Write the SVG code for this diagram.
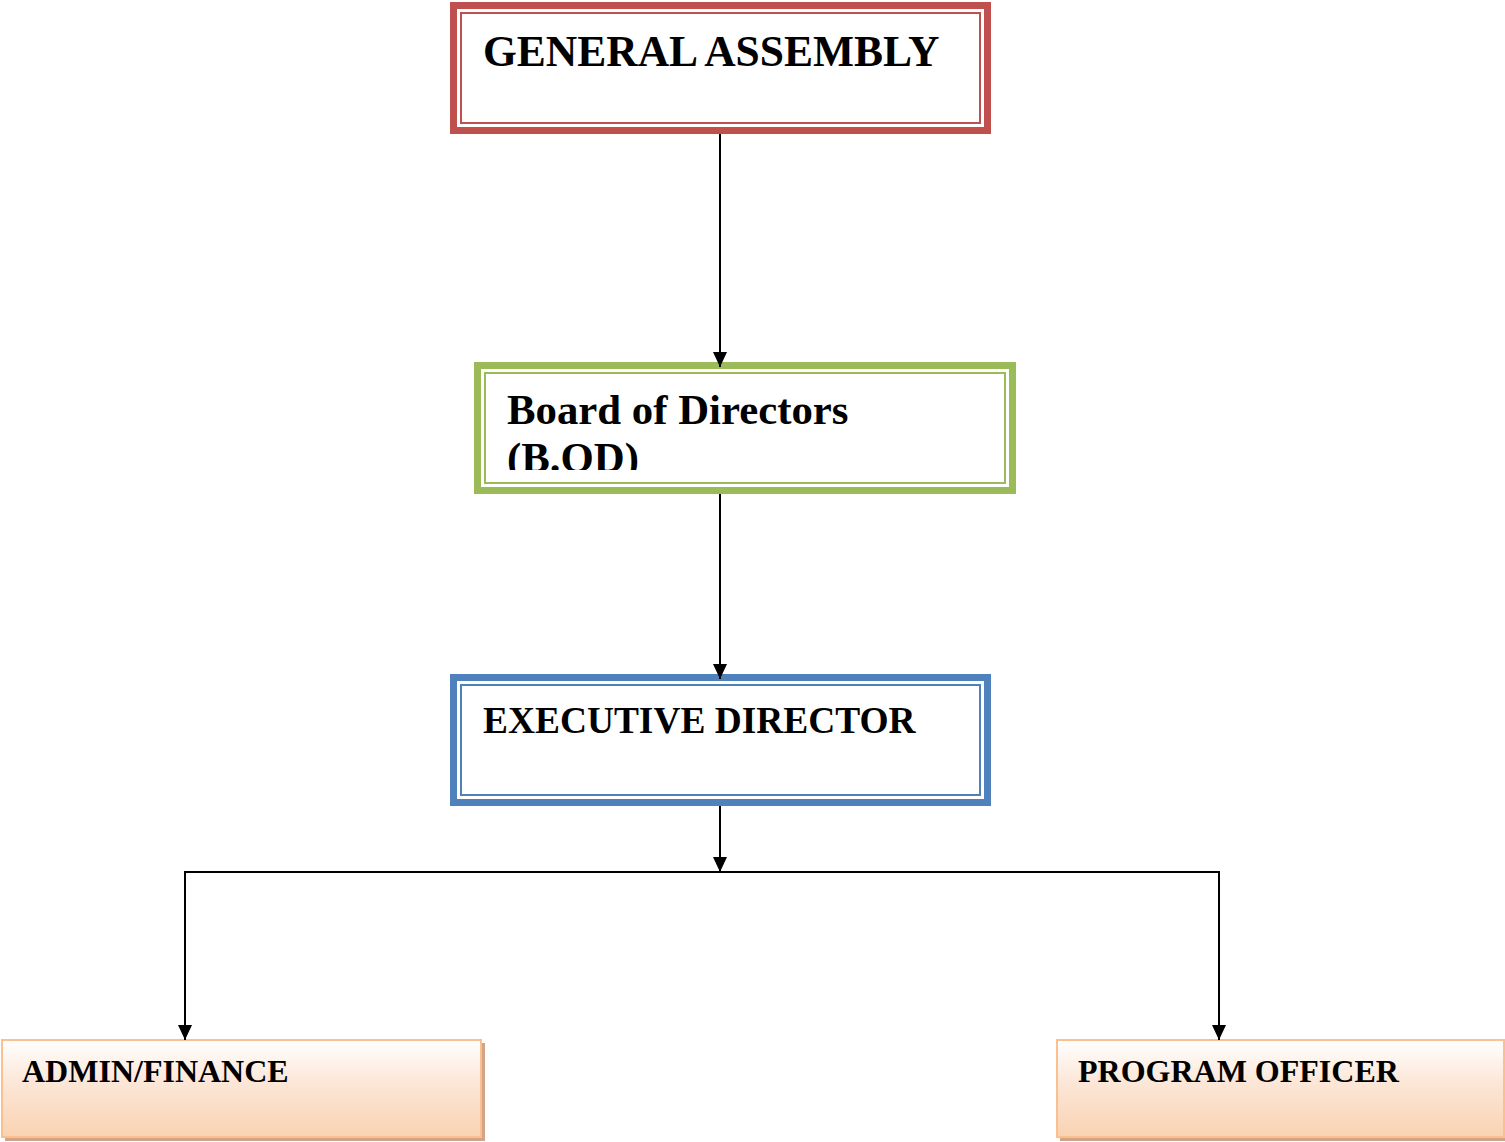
<svg xmlns="http://www.w3.org/2000/svg" width="1505" height="1142" viewBox="0 0 1505 1142">
<style>
.t{font-family:"Liberation Serif","Times New Roman",serif;font-weight:bold;fill:#000}
.c{stroke:#000;stroke-width:2;fill:none}
.o{fill:#fff}
</style>
<defs>
<marker id="ah" viewBox="0 0 15 14" refX="15" refY="7" markerWidth="15" markerHeight="14" markerUnits="userSpaceOnUse" orient="auto">
<path d="M0 0 L15 7 L0 14 Z" fill="#000"/>
</marker>
<linearGradient id="pg" x1="0" y1="0" x2="0" y2="1">
<stop offset="0" stop-color="#fff"/>
<stop offset="0.45" stop-color="#fce6d6"/>
<stop offset="1" stop-color="#f9d3b2"/>
</linearGradient>
<clipPath id="bodclip"><rect x="486" y="374" width="518" height="96"/></clipPath>
</defs>
<rect width="1505" height="1142" fill="#fff"/>
<g id="general-assembly">
<rect x="453.5" y="5.5" width="534" height="125" class="o" stroke="#c0504d" stroke-width="7"/>
<rect x="461" y="13" width="519" height="110" fill="none" stroke="#c0504d" stroke-width="2"/>
<text class="t" x="483" y="66" font-size="43.5">GENERAL ASSEMBLY</text>
</g>
<g id="board-of-directors">
<rect x="477.5" y="365.5" width="535" height="125" class="o" stroke="#9bbb59" stroke-width="7"/>
<rect x="485" y="373" width="520" height="110" fill="none" stroke="#9bbb59" stroke-width="2"/>
<g clip-path="url(#bodclip)">
<text class="t" x="507" y="424" font-size="42.8">Board of Directors</text>
<text class="t" x="507" y="472" font-size="42.8">(B.OD)</text>
</g>
</g>
<g id="executive-director">
<rect x="453.5" y="677.5" width="534" height="125" class="o" stroke="#4f81bd" stroke-width="7"/>
<rect x="461" y="685" width="519" height="110" fill="none" stroke="#4f81bd" stroke-width="2"/>
<text class="t" x="483" y="733" font-size="37.4">EXECUTIVE DIRECTOR</text>
</g>
<g id="admin-finance">
<rect x="5" y="1043" width="480" height="98" fill="#d0a484"/>
<rect x="2" y="1040" width="479" height="97" fill="url(#pg)" stroke="#fac090" stroke-width="2"/>
<text class="t" x="22" y="1082" font-size="32">ADMIN/FINANCE</text>
</g>
<g id="program-officer">
<rect x="1060" y="1043" width="445" height="98" fill="#d0a484"/>
<rect x="1057" y="1040" width="447" height="97" fill="url(#pg)" stroke="#fac090" stroke-width="2"/>
<text class="t" x="1078" y="1082" font-size="32">PROGRAM OFFICER</text>
</g>
<g id="connectors">
<line class="c" x1="720" y1="134" x2="720" y2="367" marker-end="url(#ah)"/>
<line class="c" x1="720" y1="494" x2="720" y2="679" marker-end="url(#ah)"/>
<line class="c" x1="720" y1="806" x2="720" y2="872" marker-end="url(#ah)"/>
<polyline class="c" points="185,1025 185,872 1219,872 1219,1025"/>
<line class="c" x1="185" y1="1000" x2="185" y2="1040" marker-end="url(#ah)"/>
<line class="c" x1="1219" y1="1000" x2="1219" y2="1040" marker-end="url(#ah)"/>
</g>
</svg>
